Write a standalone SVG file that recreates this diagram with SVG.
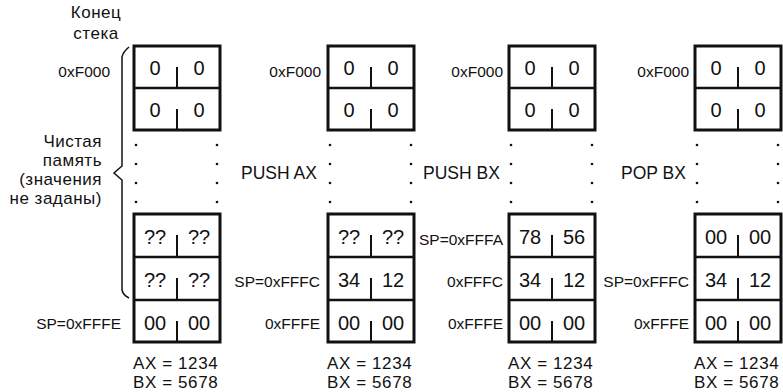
<svg xmlns="http://www.w3.org/2000/svg" width="783" height="392" viewBox="0 0 783 392">
<style>
text{font-family:"Liberation Sans",Arial,sans-serif;fill:#111}
.box{fill:none;stroke:#111;stroke-width:3}
.div{stroke:#111;stroke-width:2.5}
.tick{stroke:#111;stroke-width:2}
.val{font-size:20px;text-anchor:middle}
.addr{font-size:15.5px;text-anchor:end}
.big{font-size:17.5px}
.reg{font-size:17px;letter-spacing:0.6px}
.lbl{font-size:17px;letter-spacing:0.5px}
.dot{fill:#111}
</style>
<defs>
<g id="dots">
<circle class="dot" cx="0" cy="145" r="1.3"/>
<circle class="dot" cx="0" cy="164" r="1.3"/>
<circle class="dot" cx="0" cy="183" r="1.3"/>
<circle class="dot" cx="0" cy="202" r="1.3"/>
</g>
<g id="top">
<rect class="box" x="0" y="46" width="86" height="84"/>
<line class="div" x1="0" y1="88" x2="86" y2="88"/>
<line class="tick" x1="43" y1="67" x2="43" y2="88"/>
<line class="tick" x1="43" y1="109" x2="43" y2="130"/>
<text class="val" x="21" y="75">0</text><text class="val" x="65" y="75">0</text>
<text class="val" x="21" y="117">0</text><text class="val" x="65" y="117">0</text>
</g>
<g id="bottom">
<rect class="box" x="0" y="214" width="86" height="128"/>
<line class="div" x1="0" y1="257" x2="86" y2="257"/>
<line class="div" x1="0" y1="300" x2="86" y2="300"/>
<line class="tick" x1="43" y1="235" x2="43" y2="257"/>
<line class="tick" x1="43" y1="278" x2="43" y2="300"/>
<line class="tick" x1="43" y1="321" x2="43" y2="342"/>
</g>
</defs>

<g id="legend">
<text class="lbl" x="96" y="18" text-anchor="middle">Конец</text>
<text class="lbl" x="96" y="39" text-anchor="middle">стека</text>
<text class="lbl" x="102" y="147" text-anchor="end">Чистая</text>
<text class="lbl" x="102" y="166" text-anchor="end">память</text>
<text class="lbl" x="102" y="185" text-anchor="end">(значения</text>
<text class="lbl" x="102" y="204" text-anchor="end">не заданы)</text>
<path d="M129,47 Q123,52 122,57 L122,166 L114,173 L122,180 L122,290 Q123,295 129,298" fill="none" stroke="#111" stroke-width="1.5"/>
</g>

<g id="col1" transform="translate(134,0)">
<use href="#top"/>
<use href="#dots" x="2"/><use href="#dots" x="83"/>
<use href="#bottom"/>
<text class="val" x="21" y="244">??</text><text class="val" x="65" y="244">??</text>
<text class="val" x="21" y="287">??</text><text class="val" x="65" y="287">??</text>
<text class="val" x="21" y="330">00</text><text class="val" x="65" y="330">00</text>
<text class="addr" x="-24" y="77">0xF000</text>
<text class="addr" x="-13" y="329">SP=0xFFFE</text>
<text class="reg" x="-1" y="369">AX = 1234</text>
<text class="reg" x="-1" y="388">BX = 5678</text>
</g>

<g id="col2" transform="translate(328,0)">
<text class="big" x="-87" y="179">PUSH AX</text>
<use href="#top"/>
<use href="#dots" x="2"/><use href="#dots" x="83"/>
<use href="#bottom"/>
<text class="val" x="21" y="244">??</text><text class="val" x="65" y="244">??</text>
<text class="val" x="21" y="287">34</text><text class="val" x="65" y="287">12</text>
<text class="val" x="21" y="330">00</text><text class="val" x="65" y="330">00</text>
<text class="addr" x="-7" y="77">0xF000</text>
<text class="addr" x="-8" y="287">SP=0xFFFC</text>
<text class="addr" x="-8" y="329">0xFFFE</text>
<text class="reg" x="-1" y="369">AX = 1234</text>
<text class="reg" x="-1" y="388">BX = 5678</text>
</g>

<g id="col3" transform="translate(509,0)">
<text class="big" x="-86" y="179">PUSH BX</text>
<use href="#top"/>
<use href="#dots" x="2"/><use href="#dots" x="83"/>
<use href="#bottom"/>
<text class="val" x="21" y="244">78</text><text class="val" x="65" y="244">56</text>
<text class="val" x="21" y="287">34</text><text class="val" x="65" y="287">12</text>
<text class="val" x="21" y="330">00</text><text class="val" x="65" y="330">00</text>
<text class="addr" x="-6" y="77">0xF000</text>
<text class="addr" x="-6" y="245">SP=0xFFFA</text>
<text class="addr" x="-6" y="287">0xFFFC</text>
<text class="addr" x="-6" y="329">0xFFFE</text>
<text class="reg" x="-1" y="369">AX = 1234</text>
<text class="reg" x="-1" y="388">BX = 5678</text>
</g>

<g id="col4" transform="translate(695,0)">
<text class="big" x="-74" y="179">POP BX</text>
<use href="#top"/>
<use href="#dots" x="2"/><use href="#dots" x="83"/>
<use href="#bottom"/>
<text class="val" x="21" y="244">00</text><text class="val" x="65" y="244">00</text>
<text class="val" x="21" y="287">34</text><text class="val" x="65" y="287">12</text>
<text class="val" x="21" y="330">00</text><text class="val" x="65" y="330">00</text>
<text class="addr" x="-6" y="77">0xF000</text>
<text class="addr" x="-6" y="287">SP=0xFFFC</text>
<text class="addr" x="-6" y="329">0xFFFE</text>
<text class="reg" x="-1" y="369">AX = 1234</text>
<text class="reg" x="-1" y="388">BX = 5678</text>
</g>
</svg>
